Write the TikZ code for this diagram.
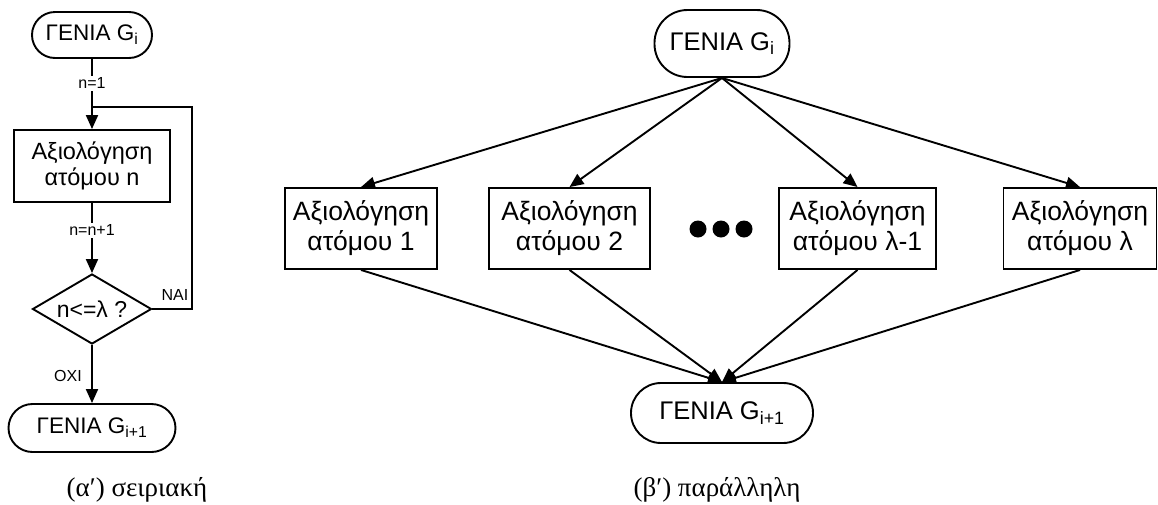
\documentclass[tikz,border=0pt]{standalone}
\usepackage{fontspec}
\setmainfont{Liberation Sans}
\newfontfamily\capfont{Liberation Serif}
\usetikzlibrary{arrows.meta,shapes.geometric}
\tikzset{
  conn/.style={line width=1.9pt, -{Triangle[length=14pt,width=12pt]}},
  plain/.style={line width=1.9pt},
  termL/.style={draw, line width=1.9pt, rounded corners=23pt, minimum width=120pt, minimum height=46pt, inner sep=0pt, font=\fontsize{22.5}{26}\selectfont},
  boxL/.style={draw, line width=1.9pt, minimum width=156pt, minimum height=72pt, inner sep=0pt, align=center, font=\fontsize{23.5}{25.5}\selectfont},
  termR/.style={draw, line width=1.9pt, rounded corners=33pt, minimum height=67pt, inner sep=0pt, font=\fontsize{25.5}{29}\selectfont},
  boxR/.style={draw, line width=1.9pt, minimum height=81pt, inner sep=0pt, align=center, font=\fontsize{26.5}{30}\selectfont},
  lbl/.style={fill=white, inner sep=2pt, font=\fontsize{16}{18}\selectfont},
  caption/.style={font=\capfont\fontsize{27}{30}\selectfont}
}
\begin{document}
\begin{tikzpicture}[x=1pt,y=-1pt]
\useasboundingbox (0,0) rectangle (1158,504);
% ---------- left: serial ----------
\node[termL] (lt) at (92,35) {ΓΕΝΙΑ G\textsubscript{i}};
\node[boxL] (lbox) at (92,166) {Αξιολόγηση\\ατόμου n};
\node[diamond, draw, line width=1.9pt, minimum width=119pt, minimum height=70pt, aspect=1.7, inner sep=0pt, font=\fontsize{23}{26}\selectfont] (ldia) at (92,309) {n<=λ ?};
\node[termL, minimum width=167pt, minimum height=48pt, rounded corners=24pt] (lbt) at (92,428) {ΓΕΝΙΑ G\textsubscript{i+1}};
\coordinate (join) at (92,107);
\coordinate (loopc) at (192,107);
\draw[conn] (lt.south) -- node[lbl, pos=0.35] (l1) {n=1} (lbox.north);
\draw[conn] (lbox.south) -- node[lbl, pos=0.39] (l2) {n=n+1} (ldia.north);
\draw[plain, line join=miter] (ldia.east) -| (loopc) -- (join);
\node[lbl, fill=none, inner sep=0pt] (nai) at (175,295) {NAI};
\draw[conn] (ldia.south) -- (lbt.north);
\node[lbl, fill=none, inner sep=0pt] (oxi) at (68,376) {OXI};
\node[caption] (capa) at (137,490) {(α′) σειριακή};
% ---------- right: parallel ----------
\node[termR, minimum width=135pt] (rt) at (722,43.5) {ΓΕΝΙΑ G\textsubscript{i}};
\node[boxR, minimum width=152pt] (b1) at (361,228.5) {Αξιολόγηση\\ατόμου 1};
\node[boxR, minimum width=161pt] (b2) at (569.5,228.5) {Αξιολόγηση\\ατόμου 2};
\node[boxR, minimum width=157pt] (b3) at (857.5,228.5) {Αξιολόγηση\\ατόμου λ-1};
\node[boxR, minimum width=153pt] (b4) at (1080,228.5) {Αξιολόγηση\\ατόμου λ};
\node[termR, minimum width=182pt, minimum height=60pt, rounded corners=30pt] (rb) at (722,413) {ΓΕΝΙΑ G\textsubscript{i+1}};
\fill (698,229) circle (8.5pt) (721,229) circle (8.5pt) (744,229) circle (8.5pt);
\foreach \b in {b1,b2,b3,b4}{
  \draw[conn] (rt.south) -- (\b.north);
  \draw[conn] (\b.south) -- (rb.north);
}
\node[caption] (capb) at (717,490) {(β′) παράλληλη};
\end{tikzpicture}
\end{document}
